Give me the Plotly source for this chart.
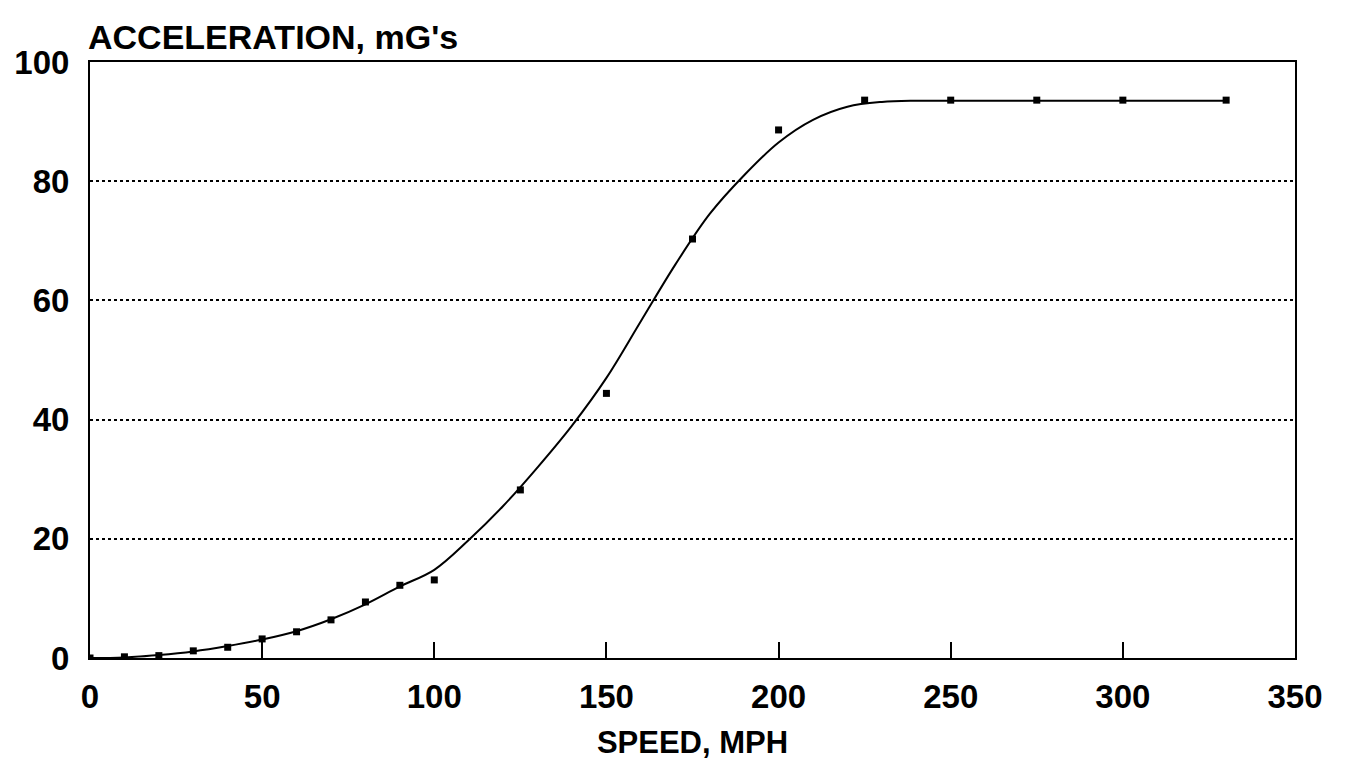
import plotly.graph_objects as go

# Measured data points
speed_pts = [0, 10, 20, 30, 40, 50, 60, 70, 80, 90, 100, 125, 150, 175, 200, 225, 250, 275, 300, 330]
accel_pts = [0.0, 0.2, 0.4, 1.2, 1.8, 3.2, 4.4, 6.4, 9.4, 12.2, 13.1, 28.2, 44.4, 70.3, 88.6, 93.6, 93.6, 93.6, 93.6, 93.6]

# Fitted curve
speed_fit = [0, 10, 20, 30, 40, 50, 60, 70, 80, 90, 100, 110, 120, 130, 140, 150, 160, 170, 180, 190, 200, 210, 220, 230, 240, 250, 275, 300, 330]
accel_fit = [0.0, 0.1, 0.5, 1.1, 2.0, 3.1, 4.5, 6.5, 9.0, 12.0, 14.8, 19.8, 25.5, 32.0, 39.0, 47.0, 56.5, 66.0, 74.5, 81.0, 86.5, 90.3, 92.5, 93.3, 93.5, 93.5, 93.5, 93.5, 93.5]

x_ticks = [0, 50, 100, 150, 200, 250, 300, 350]
y_ticks = [0, 20, 40, 60, 80, 100]

FONT = "Liberation Sans, Arial, sans-serif"

fig = go.Figure()
fig.add_trace(go.Scatter(
    x=speed_fit, y=accel_fit, mode="lines",
    line=dict(color="black", width=2, shape="spline", smoothing=1.0),
    showlegend=False, hoverinfo="skip"))
fig.add_trace(go.Scatter(
    x=speed_pts, y=accel_pts, mode="markers",
    marker=dict(symbol="square", size=7, color="black"),
    showlegend=False))

fig.update_layout(
    width=1349, height=774,
    margin=dict(l=90, r=54, t=62, b=116),
    paper_bgcolor="white", plot_bgcolor="white",
    font=dict(family=FONT, color="black", size=30),
    xaxis=dict(
        range=[0, 350], tickvals=x_ticks, ticktext=[str(v) for v in x_ticks],
        showgrid=False, zeroline=False,
        showline=True, linecolor="black", linewidth=2, mirror=True,
        ticks="inside", ticklen=16, tickwidth=1.5, tickcolor="black",
        ticklabelstandoff=8,
        tickfont=dict(family=FONT, size=33, weight="bold"),
        title=dict(text="<b>SPEED, MPH</b>", font=dict(family=FONT, size=31), standoff=18),
    ),
    yaxis=dict(
        range=[0, 100], tickvals=y_ticks, ticktext=[str(v) for v in y_ticks],
        showgrid=True, gridcolor="black", gridwidth=1.5, griddash="dot",
        zeroline=False,
        showline=True, linecolor="black", linewidth=2, mirror=True,
        ticks="", ticklabelstandoff=12,
        tickfont=dict(family=FONT, size=33, weight="bold"),
    ),
    annotations=[dict(
        text="<b>ACCELERATION, mG's</b>", xref="paper", yref="paper",
        x=-0.003, y=1.0, xanchor="left", yanchor="bottom", yshift=4,
        showarrow=False, font=dict(family=FONT, size=34, color="black"))],
)

fig.write_html("out.html")
